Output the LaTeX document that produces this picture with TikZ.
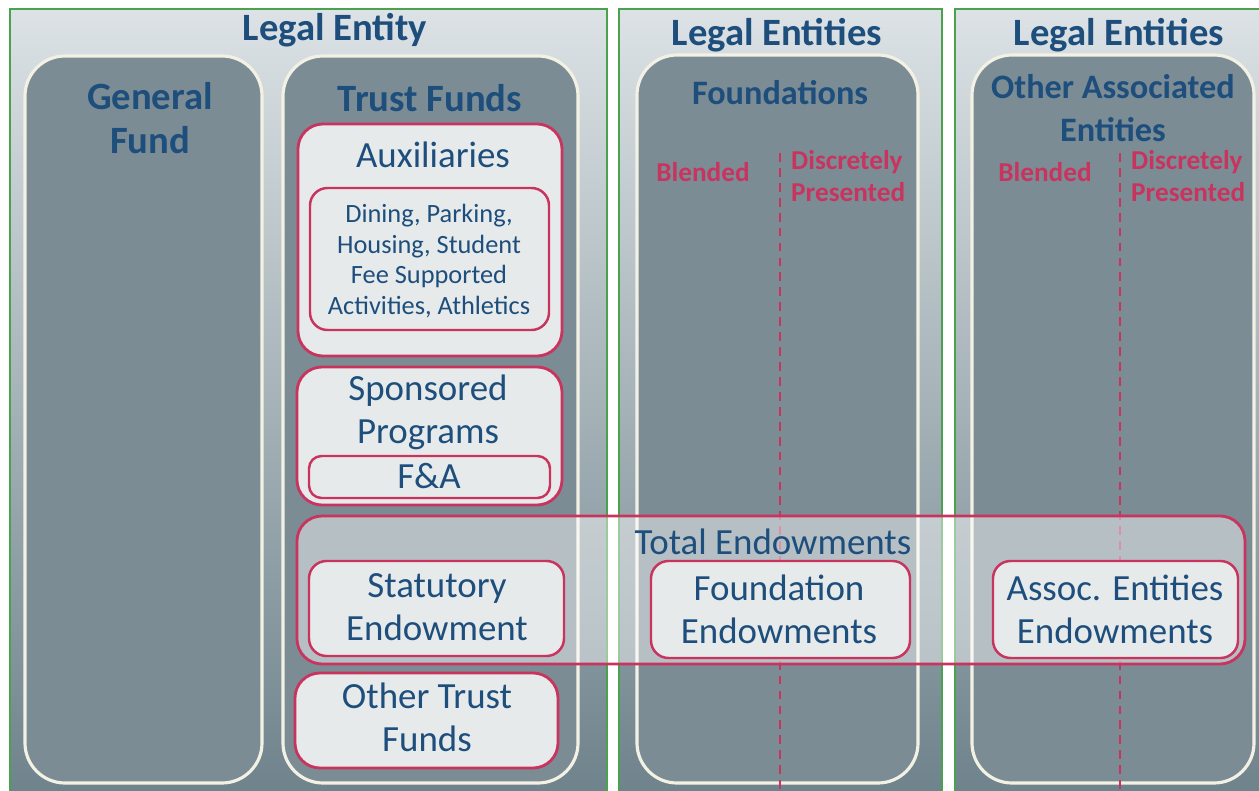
\documentclass[tikz,border=0pt]{standalone}
\usepackage{fontspec}
\setmainfont{Carlito}
\usetikzlibrary{positioning}

\definecolor{entityblue}{HTML}{1D4E7C}
\definecolor{fundred}{HTML}{C9345F}
\definecolor{panelgreen}{HTML}{4AA24E}
\definecolor{colslate}{HTML}{7B8C95}
\definecolor{colrim}{HTML}{F2F1E4}
\definecolor{boxgray}{HTML}{E7EAEB}
\definecolor{paneltop}{HTML}{DCE2E5}
\definecolor{panelbot}{HTML}{6E828B}

\tikzset{
  panel/.style={draw=panelgreen, line width=1.2pt, top color=paneltop, bottom color=panelbot},
  column/.style={draw=colrim, line width=1.8pt, fill=colslate, rounded corners=0.8cm},
  fundbox/.style={draw=fundred, line width=1.6pt, fill=boxgray, rounded corners=0.5cm},
  smallbox/.style={draw=fundred, line width=1.4pt, fill=boxgray, rounded corners=0.35cm},
  totalbox/.style={draw=fundred, line width=1.6pt, fill=white, fill opacity=0.45, rounded corners=0.5cm},
  splitline/.style={fundred, line width=1.4pt, dash pattern=on 5pt off 3.5pt},
  titletext/.style={text=entityblue, align=center, font=\fontsize{22}{25}\selectfont\bfseries},
  coltext/.style={titletext, font=\fontsize{19.5}{24.5}\selectfont\bfseries},
  fundtext/.style={text=entityblue, align=center, font=\fontsize{21}{24.5}\selectfont},
  listtext/.style={text=entityblue, align=center, font=\fontsize{15}{17.6}\selectfont},
  splittext/.style={text=fundred, align=left, font=\fontsize{15.5}{18.7}\selectfont\bfseries}
}

\begin{document}
\begin{tikzpicture}[x=0.02cm, y=-0.02cm]
    \useasboundingbox (0,0) rectangle (1259,791);
    \clip (0,0) rectangle (1259,791);

    % Outer legal entity panels
    \path[panel] (10,9) rectangle (607,800);
    \path[panel] (619,9) rectangle (942,800);
    \path[panel] (955,9) rectangle (1270,800);

    \node[titletext] (entity) at (335,30) {Legal Entity};
    \node[titletext] (entities1) at (777,35) {Legal Entities};
    \node[titletext] (entities2) at (1119,35) {Legal Entities};

    % Fund columns
    \path[column] (25,56) rectangle (262,783);
    \path[column] (283,56) rectangle (578,783);
    \path[column] (637,55) rectangle (918,783);
    \path[column] (972,55) rectangle (1254,783);

    \node[titletext] (general) at (150,118) {General\\Fund};
    \node[titletext] (trust) at (430,98) {Trust Funds};
    \node[coltext] (found) at (780,93) {Foundations};
    \node[coltext] (other) at (1113,108) {Other Associated\\Entities};

    % Blended / discretely presented split
    \draw[splitline] (780,153) -- (780,795);
    \draw[splitline] (1120,153) -- (1120,795);
    \node[splittext] (blend1) at (703,172) {Blended};
    \node[splittext, anchor=west] (disc1) at (785,176) {Discretely\\Presented};
    \node[splittext] (blend2) at (1045,172) {Blended};
    \node[splittext, anchor=west] (disc2) at (1125,176) {Discretely\\Presented};

    % Auxiliaries
    \path[fundbox] (298,124) rectangle (562,356);
    \node[fundtext] (aux) at (433,155) {Auxiliaries};
    \path[smallbox] (310,188) rectangle (549,330);
    \node[listtext] (auxlist) at (429,261) {Dining, Parking,\\Housing, Student\\Fee Supported\\Activities, Athletics};

    % Sponsored programs
    \path[fundbox] (297,367) rectangle (562,505);
    \node[fundtext] (spons) at (428,412) {Sponsored\\Programs};
    \path[smallbox, rounded corners=0.25cm] (309,456) rectangle (550,498);
    \node[fundtext] (fa) at (429,476) {F\&A};

    % Endowments across all entities
    \path[totalbox] (297,516) rectangle (1245,664);
    \node[fundtext] (total) at (773,542) {Total Endowments};
    \path[smallbox] (309,561) rectangle (564,656);
    \node[fundtext] (statut) at (437,607) {Statutory\\Endowment};
    \path[smallbox] (651,561) rectangle (910,658);
    \node[fundtext] (foundend) at (779,609) {Foundation\\Endowments};
    \path[smallbox] (993,561) rectangle (1238,658);
    \node[fundtext] (assocend) at (1115,609) {Assoc. Entities\\Endowments};

    % Other trust funds
    \path[fundbox] (295,673) rectangle (558,768);
    \node[fundtext] (othertrust) at (427,717) {Other Trust\\Funds};
\end{tikzpicture}
\end{document}
